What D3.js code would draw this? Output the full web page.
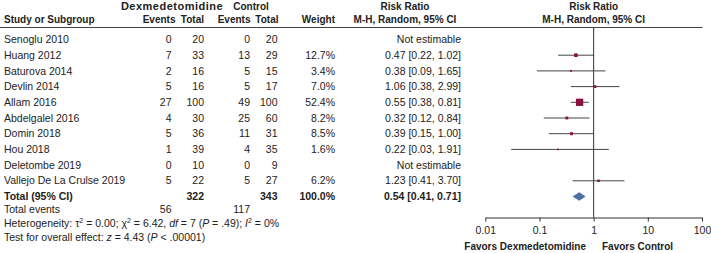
<!DOCTYPE html>
<html>
<head>
<meta charset="utf-8">
<script src="https://cdn.jsdelivr.net/npm/d3@7"></script>
<style>
  body { margin: 0; background: #fff; }
  svg { display: block; font-family: "Liberation Sans", Arial, sans-serif; }
  text { fill: #222; }
</style>
</head>
<body>
<script>
const width = 711
const height = 253

// datos
const studies = ['Senoglu 2010', 'Huang 2012', 'Baturova 2014', 'Devlin 2014', 'Allam 2016',
  'Abdelgalel 2016', 'Domin 2018', 'Hou 2018', 'Deletombe 2019', 'Vallejo De La Crulse 2019']
const dexEvents = [0, 7, 2, 5, 27, 4, 5, 1, 0, 5]
const dexTotal = [20, 33, 16, 16, 100, 30, 36, 39, 10, 22]
const ctrlEvents = [0, 13, 5, 5, 49, 25, 11, 4, 0, 5]
const ctrlTotal = [20, 29, 15, 17, 100, 60, 31, 35, 9, 27]
const weights = [null, 12.7, 3.4, 7.0, 52.4, 8.2, 8.5, 1.6, null, 6.2]
const rr = [null, 0.47, 0.38, 1.06, 0.55, 0.32, 0.39, 0.22, null, 1.23]
const lo = [null, 0.22, 0.09, 0.38, 0.38, 0.12, 0.15, 0.03, null, 0.41]
const hi = [null, 1.02, 1.65, 2.99, 0.81, 0.84, 1.00, 1.91, null, 3.70]
const total = { dexTotal: 322, ctrlTotal: 343, weight: 100.0, rr: 0.54, lo: 0.41, hi: 0.71, dexEvents: 56, ctrlEvents: 117 }
const ticks = [0.01, 0.1, 1, 10, 100]

const rows = studies.map((s, i) => ({
  study: s, de: dexEvents[i], dt: dexTotal[i], ce: ctrlEvents[i], ct: ctrlTotal[i],
  w: weights[i], rr: rr[i], lo: lo[i], hi: hi[i]
}))

const fs = 10.5
const hfs = 10
const fmt2 = d3.format('.2f')
const fmtW = d => d.toFixed(1) + '%'

// escalas
const y = d3.scalePoint().domain([...studies, 'Total']).range([39.5, 196.5])
const x = d3.scaleLog().domain([0.01, 100]).range([485.3, 702])
const side = d3.scaleSqrt().domain([0, 52.4]).range([0, 7.3])

// columnas (borde derecho)
const col = { de: 171.5, dt: 204, ce: 250, ct: 277.5, w: 335, ci: 461 }

const svg = d3.select('body').append('svg').attr('width', width).attr('height', height)

function txt(g, xx, yy, s, anchor, bold, size) {
  return g.append('text').attr('x', xx).attr('y', yy).attr('dy', '0.35em')
    .attr('text-anchor', anchor || 'start')
    .attr('font-size', size || fs).attr('font-weight', bold ? 'bold' : null)
    .text(s)
}

// encabezados
const head = svg.append('g')
txt(head, 172, 6, 'Dexmedetomidine', 'middle', true, 11).attr('letter-spacing', 0.5)
txt(head, 251, 6, 'Control', 'middle', true, hfs)
txt(head, 4, 19.5, 'Study or Subgroup', 'start', true, hfs)
txt(head, 175.5, 19.5, 'Events', 'end', true, hfs)
txt(head, col.dt, 19.5, 'Total', 'end', true, hfs)
txt(head, 250.5, 19.5, 'Events', 'end', true, hfs)
txt(head, 278.5, 19.5, 'Total', 'end', true, hfs)
txt(head, col.w, 19.5, 'Weight', 'end', true, hfs)
txt(head, 405, 6, 'Risk Ratio', 'middle', true, hfs)
txt(head, 405, 19.5, 'M-H, Random, 95% CI', 'middle', true, hfs)
txt(head, x(1), 6, 'Risk Ratio', 'middle', true, hfs)
txt(head, x(1), 19.5, 'M-H, Random, 95% CI', 'middle', true, hfs)

svg.append('line').attr('x1', 0).attr('x2', 702.5).attr('y1', 27.5).attr('y2', 27.5)
  .attr('stroke', '#444').attr('stroke-width', 1)

// tabla
const tabla = svg.append('g')
rows.forEach(d => {
  const yy = y(d.study)
  txt(tabla, 4, yy, d.study)
  txt(tabla, col.de, yy, d.de, 'end')
  txt(tabla, col.dt, yy, d.dt, 'end')
  txt(tabla, col.ce, yy, d.ce, 'end')
  txt(tabla, col.ct, yy, d.ct, 'end')
  if (d.w != null) txt(tabla, col.w, yy, fmtW(d.w), 'end')
  txt(tabla, col.ci, yy, d.rr == null ? 'Not estimable' : `${fmt2(d.rr)} [${fmt2(d.lo)}, ${fmt2(d.hi)}]`, 'end')
})

const yt = y('Total')
txt(tabla, 4, yt, 'Total (95% CI)', 'start', true)
txt(tabla, col.dt, yt, total.dexTotal, 'end', true)
txt(tabla, col.ct, yt, total.ctrlTotal, 'end', true)
txt(tabla, col.w, yt, fmtW(total.weight), 'end', true)
txt(tabla, col.ci, yt, `${fmt2(total.rr)} [${fmt2(total.lo)}, ${fmt2(total.hi)}]`, 'end', true)

txt(tabla, 4, 209.5, 'Total events')
txt(tabla, col.de, 209.5, total.dexEvents, 'end')
txt(tabla, col.ce, 209.5, total.ctrlEvents, 'end')

// superindices con desplazamiento en px
function sup(t, s) {
  t.append('tspan').attr('font-size', 7).attr('dy', -4).text(s)
  return t.append('tspan').attr('dy', 4)
}
const het = txt(tabla, 4, 223.5, '')
het.append('tspan').text('Heterogeneity: τ')
sup(het, '2').text(' = 0.00; χ')
sup(het, '2').text(' = 6.42, ')
het.append('tspan').attr('font-style', 'italic').text('df')
het.append('tspan').text(' = 7 (')
het.append('tspan').attr('font-style', 'italic').text('P')
het.append('tspan').text(' = .49); ')
het.append('tspan').attr('font-style', 'italic').text('I')
sup(het, '2').text(' = 0%')

const tst = txt(tabla, 4, 237.5, '')
tst.append('tspan').text('Test for overall effect: ')
tst.append('tspan').attr('font-style', 'italic').text('z')
tst.append('tspan').text(' = 4.43 (')
tst.append('tspan').attr('font-style', 'italic').text('P')
tst.append('tspan').text(' < .00001)')

// grafico
const plot = svg.append('g')
const axisY = 217.5

plot.append('line').attr('x1', x(1)).attr('x2', x(1)).attr('y1', 27.5).attr('y2', axisY)
  .attr('stroke', '#333').attr('stroke-width', 1)

const est = rows.filter(d => d.rr != null)
plot.selectAll('line.ci').data(est).join('line').attr('class', 'ci')
  .attr('x1', d => x(d.lo)).attr('x2', d => x(d.hi))
  .attr('y1', d => y(d.study)).attr('y2', d => y(d.study))
  .attr('stroke', '#444').attr('stroke-width', 1)

const sz = d => Math.max(side(d.w), 1.6)
plot.selectAll('rect.sq').data(est).join('rect').attr('class', 'sq')
  .attr('x', d => x(d.rr) - sz(d) / 2)
  .attr('y', d => y(d.study) - sz(d) / 2)
  .attr('width', sz)
  .attr('height', sz)
  .attr('fill', '#8a1040')

const dh = 4.3
plot.append('path')
  .attr('d', `M${x(total.lo)},${yt} L${x(total.rr)},${yt - dh} L${x(total.hi)},${yt} L${x(total.rr)},${yt + dh} Z`)
  .attr('fill', '#4a6fa5')

const ax = plot.append('g').attr('transform', `translate(0,${axisY})`)
  .call(d3.axisBottom(x).tickValues(ticks).tickFormat(d => String(d)).tickSize(4).tickSizeOuter(0))
ax.select('.domain').attr('stroke', '#333')
ax.selectAll('.tick line').attr('stroke', '#333')
ax.selectAll('.tick text').attr('font-size', fs).attr('fill', '#222')
  .attr('font-family', '"Liberation Sans", Arial, sans-serif').attr('y', 9.5)

txt(plot, 586, 246.5, 'Favors Dexmedetomidine', 'end', true, hfs)
txt(plot, 602, 246.5, 'Favors Control', 'start', true, hfs)
</script>
</body>
</html>
